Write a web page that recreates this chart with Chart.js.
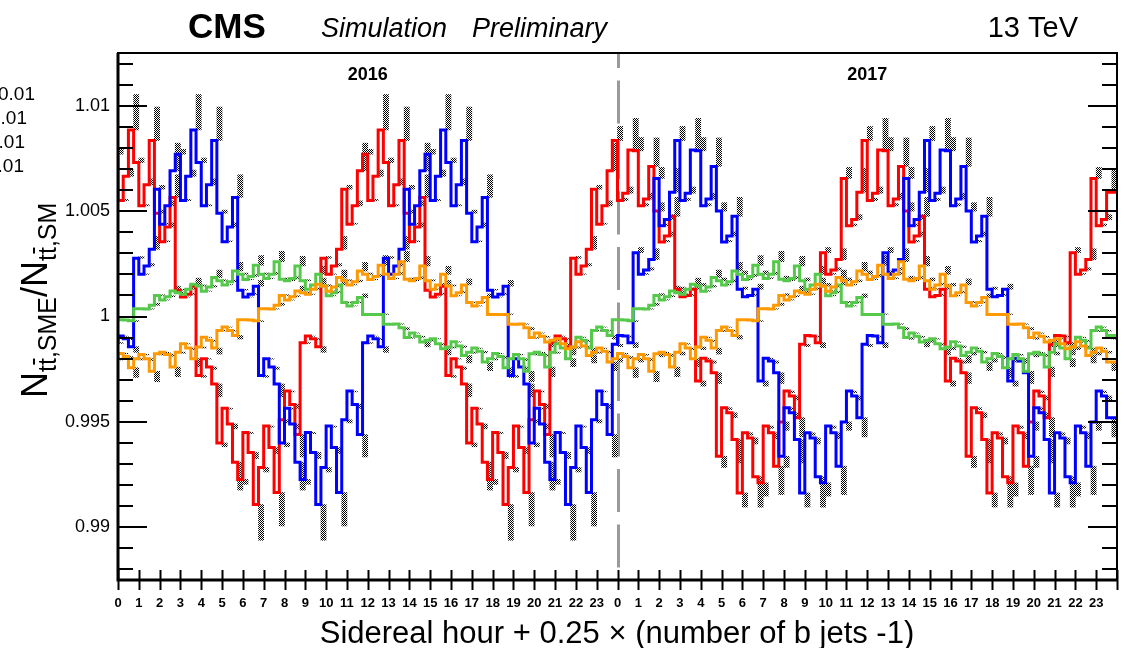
<!DOCTYPE html>
<html>
<head>
<meta charset="utf-8">
<script src="https://cdn.jsdelivr.net/npm/chart.js@4.4.1/dist/chart.umd.min.js"></script>
<style>
  html, body { margin: 0; padding: 0; background: #fff; }
</style>
</head>
<body>
<canvas id="sme" width="1124" height="648"></canvas>
<script>
// ratio N(SME)/N(SM) per bin: 4 b-jet bins per sidereal hour, 24 hours per year
const red16 = [
  1.00770, 1.00550, 1.00665, 1.00885,  1.00730, 1.00525, 1.00625, 1.00835,
  1.00490, 1.00355, 1.00425, 1.00565,  1.00125, 1.00092, 1.00105, 1.00144,
  0.99720, 0.99800, 0.99760, 0.99680,  0.99400, 0.99565, 0.99490, 0.99308,
  0.99227, 0.99450, 0.99355, 0.99108,  0.99284, 0.99480, 0.99378, 0.99165,
  0.99510, 0.99646, 0.99583, 0.99440,  0.99876, 0.99907, 0.99895, 0.99857,
  1.00276, 1.00200, 1.00240, 1.00319,  1.00604, 1.00438, 1.00525, 1.00691,
  1.00770, 1.00550, 1.00665, 1.00885,  1.00730, 1.00525, 1.00625, 1.00835,
  1.00490, 1.00355, 1.00425, 1.00565,  1.00125, 1.00092, 1.00105, 1.00144,
  0.99720, 0.99800, 0.99760, 0.99680,  0.99400, 0.99565, 0.99490, 0.99308,
  0.99227, 0.99450, 0.99355, 0.99108,  0.99284, 0.99480, 0.99378, 0.99165,
  0.99510, 0.99646, 0.99583, 0.99440,  0.99876, 0.99907, 0.99895, 0.99857,
  1.00276, 1.00200, 1.00240, 1.00319,  1.00604, 1.00438, 1.00525, 1.00691
];
const red17 = [
  1.00835, 1.00550, 1.00585, 1.00790,  1.00786, 1.00525, 1.00557, 1.00712,
  1.00500, 1.00354, 1.00382, 1.00475,  1.00129, 1.00094, 1.00100, 1.00129,
  0.99694, 0.99802, 0.99789, 0.99733,  0.99337, 0.99567, 0.99543, 0.99416,
  0.99163, 0.99448, 0.99424, 0.99240,  0.99211, 0.99480, 0.99448, 0.99290,
  0.99500, 0.99646, 0.99623, 0.99520,  0.99868, 0.99910, 0.99907, 0.99876,
  1.00303, 1.00200, 1.00220, 1.00270,  1.00655, 1.00430, 1.00460, 1.00590,
  1.00835, 1.00550, 1.00585, 1.00790,  1.00786, 1.00525, 1.00557, 1.00712,
  1.00500, 1.00354, 1.00382, 1.00475,  1.00129, 1.00094, 1.00100, 1.00129,
  0.99694, 0.99802, 0.99789, 0.99733,  0.99337, 0.99567, 0.99543, 0.99416,
  0.99163, 0.99448, 0.99424, 0.99240,  0.99211, 0.99480, 0.99448, 0.99290,
  0.99500, 0.99646, 0.99623, 0.99520,  0.99868, 0.99910, 0.99907, 0.99876,
  1.00303, 1.00200, 1.00220, 1.00270,  1.00655, 1.00430, 1.00460, 1.00590
];
const blue16 = [
  0.99876, 0.99907, 0.99895, 0.99857,  1.00276, 1.00200, 1.00240, 1.00319,
  1.00604, 1.00438, 1.00525, 1.00691,  1.00770, 1.00550, 1.00665, 1.00885,
  1.00730, 1.00525, 1.00625, 1.00835,  1.00490, 1.00355, 1.00425, 1.00565,
  1.00125, 1.00092, 1.00105, 1.00144,  0.99720, 0.99800, 0.99760, 0.99680,
  0.99400, 0.99565, 0.99490, 0.99308,  0.99227, 0.99450, 0.99355, 0.99108,
  0.99284, 0.99480, 0.99378, 0.99165,  0.99510, 0.99646, 0.99583, 0.99440,
  0.99876, 0.99907, 0.99895, 0.99857,  1.00276, 1.00200, 1.00240, 1.00319,
  1.00604, 1.00438, 1.00525, 1.00691,  1.00770, 1.00550, 1.00665, 1.00885,
  1.00730, 1.00525, 1.00625, 1.00835,  1.00490, 1.00355, 1.00425, 1.00565,
  1.00125, 1.00092, 1.00105, 1.00144,  0.99720, 0.99800, 0.99760, 0.99680,
  0.99400, 0.99565, 0.99490, 0.99308,  0.99227, 0.99450, 0.99355, 0.99108,
  0.99284, 0.99480, 0.99378, 0.99165,  0.99510, 0.99646, 0.99583, 0.99440
];
const blue17 = [
  0.99868, 0.99910, 0.99907, 0.99876,  1.00303, 1.00200, 1.00220, 1.00270,
  1.00655, 1.00430, 1.00460, 1.00590,  1.00835, 1.00550, 1.00585, 1.00790,
  1.00786, 1.00525, 1.00557, 1.00712,  1.00500, 1.00354, 1.00382, 1.00475,
  1.00129, 1.00094, 1.00100, 1.00129,  0.99694, 0.99802, 0.99789, 0.99733,
  0.99337, 0.99567, 0.99543, 0.99416,  0.99163, 0.99448, 0.99424, 0.99240,
  0.99211, 0.99480, 0.99448, 0.99290,  0.99500, 0.99646, 0.99623, 0.99520,
  0.99868, 0.99910, 0.99907, 0.99876,  1.00303, 1.00200, 1.00220, 1.00270,
  1.00655, 1.00430, 1.00460, 1.00590,  1.00835, 1.00550, 1.00585, 1.00790,
  1.00786, 1.00525, 1.00557, 1.00712,  1.00500, 1.00354, 1.00382, 1.00475,
  1.00129, 1.00094, 1.00100, 1.00129,  0.99694, 0.99802, 0.99789, 0.99733,
  0.99337, 0.99567, 0.99543, 0.99416,  0.99163, 0.99448, 0.99424, 0.99240,
  0.99211, 0.99480, 0.99448, 0.99290,  0.99500, 0.99646, 0.99623, 0.99520
];
const green16 = [
  0.99985, 0.99985, 0.99983, 0.99980,  1.00037, 1.00037, 1.00035, 1.00053,
  1.00100, 1.00078, 1.00094, 1.00121,  1.00113, 1.00105, 1.00129, 1.00153,
  1.00145, 1.00120, 1.00140, 1.00185,  1.00169, 1.00150, 1.00165, 1.00216,
  1.00200, 1.00175, 1.00190, 1.00243,  1.00200, 1.00180, 1.00200, 1.00260,
  1.00177, 1.00170, 1.00180, 1.00240,  1.00169, 1.00129, 1.00150, 1.00200,
  1.00145, 1.00098, 1.00113, 1.00150,  1.00066, 1.00050, 1.00066, 1.00090,
  1.00010, 1.00010, 1.00010, 1.00010,  0.99963, 0.99963, 0.99965, 0.99947,
  0.99900, 0.99922, 0.99906, 0.99879,  0.99887, 0.99895, 0.99871, 0.99847,
  0.99855, 0.99880, 0.99860, 0.99815,  0.99831, 0.99850, 0.99835, 0.99784,
  0.99800, 0.99825, 0.99810, 0.99757,  0.99800, 0.99820, 0.99800, 0.99740,
  0.99823, 0.99830, 0.99820, 0.99760,  0.99831, 0.99871, 0.99850, 0.99800,
  0.99855, 0.99902, 0.99887, 0.99850,  0.99934, 0.99950, 0.99934, 0.99910
];
const green17 = green16.slice();
const orange16 = [
  0.99800, 0.99825, 0.99810, 0.99757,  0.99800, 0.99820, 0.99800, 0.99740,
  0.99823, 0.99830, 0.99820, 0.99760,  0.99831, 0.99871, 0.99850, 0.99800,
  0.99855, 0.99902, 0.99887, 0.99850,  0.99934, 0.99950, 0.99934, 0.99910,
  0.99985, 0.99985, 0.99983, 0.99980,  1.00037, 1.00037, 1.00035, 1.00053,
  1.00100, 1.00078, 1.00094, 1.00121,  1.00113, 1.00105, 1.00129, 1.00153,
  1.00145, 1.00120, 1.00140, 1.00185,  1.00169, 1.00150, 1.00165, 1.00216,
  1.00200, 1.00175, 1.00190, 1.00243,  1.00200, 1.00180, 1.00200, 1.00260,
  1.00177, 1.00170, 1.00180, 1.00240,  1.00169, 1.00129, 1.00150, 1.00200,
  1.00145, 1.00098, 1.00113, 1.00150,  1.00066, 1.00050, 1.00066, 1.00090,
  1.00010, 1.00010, 1.00010, 1.00010,  0.99963, 0.99963, 0.99965, 0.99947,
  0.99900, 0.99922, 0.99906, 0.99879,  0.99887, 0.99895, 0.99871, 0.99847,
  0.99855, 0.99880, 0.99860, 0.99815,  0.99831, 0.99850, 0.99835, 0.99784
];
const orange17 = orange16.slice();

// relative size of the hatched band per b-jet bin (1, 2, 3, 4 b jets)
const band16 = [0.03, 0.01, 0.045, 0.19];
const band17 = [0.08, 0.02, 0.05, 0.19];

const hourLabels = [
  '0','1','2','3','4','5','6','7','8','9','10','11','12','13','14','15','16','17','18','19','20','21','22','23',
  '0','1','2','3','4','5','6','7','8','9','10','11','12','13','14','15','16','17','18','19','20','21','22','23'
];
const yTickValues = [0.99, 0.995, 1, 1.005, 1.01];
const yTickLabels = ['0.99', '0.995', '1', '1.005', '1.01'];
const legendTail = ['0.01', '0.01', '0.01', '0.01'];

const BIN = 0.25;
const FONT = "'Liberation Sans', Arial, Helvetica, sans-serif";

const series = [
  { color: '#ff0000', values: red16.concat(red17) },
  { color: '#0000ff', values: blue16.concat(blue17) },
  { color: '#55c94a', values: green16.concat(green17) },
  { color: '#ff9900', values: orange16.concat(orange17) }
];

function stepPoints(values) {
  const pts = values.map((v, i) => ({ x: i * BIN, y: v }));
  pts.push({ x: values.length * BIN, y: values[values.length - 1] });
  return pts;
}

function bandBars(values) {
  return values.map((v, i) => {
    const s = (i < 96 ? band16 : band17)[i % 4];
    return { x: (i + 0.5) * BIN, y: [v, v + (v - 1) * s] };
  });
}

// checkerboard fill for the uncertainty band
function checker() {
  const c = document.createElement('canvas');
  c.width = 2; c.height = 2;
  const g = c.getContext('2d');
  g.fillStyle = '#fff'; g.fillRect(0, 0, 2, 2);
  g.fillStyle = '#000'; g.fillRect(0, 0, 1, 1); g.fillRect(1, 1, 1, 1);
  return g.createPattern(c, 'repeat');
}
const hatch = checker();

const datasets = [];
series.forEach(s => {
  datasets.push({
    type: 'bar', data: bandBars(s.values), backgroundColor: hatch,
    borderWidth: 0, barPercentage: 1, categoryPercentage: 1, grouped: false, order: 10
  });
});
series.forEach((s, i) => {
  datasets.push({
    type: 'line', data: stepPoints(s.values), borderColor: s.color, borderWidth: 3,
    stepped: 'after', pointRadius: 0, fill: false, borderJoinStyle: 'miter', order: 4 - i
  });
});

function drawText(ctx, str, x, y, font, align) {
  ctx.font = font;
  ctx.textAlign = align || 'left';
  ctx.fillText(str, x, y);
}

const decorations = {
  id: 'decorations',
  beforeDatasetsDraw(chart) {
    const { ctx, chartArea: a, scales: { x } } = chart;
    const px = Math.round(x.getPixelForValue(24)) + 0.5;
    ctx.save();
    ctx.strokeStyle = '#9a9a9a';
    ctx.lineWidth = 3;
    ctx.setLineDash([43, 12.5]);
    ctx.lineDashOffset = 43;
    ctx.beginPath();
    ctx.moveTo(px, a.bottom);
    ctx.lineTo(px, a.top);
    ctx.stroke();
    ctx.restore();
  },
  afterDatasetsDraw(chart) {
    const { ctx, chartArea: a, scales: { x, y } } = chart;
    ctx.save();
    ctx.strokeStyle = '#000';
    // ticks on both vertical sides
    ctx.lineWidth = 2;
    ctx.beginPath();
    for (let m = 988; m <= 1012; m++) {
      const py = Math.round(y.getPixelForValue(m / 1000));
      const len = m % 5 === 0 ? 29 : 15;
      ctx.moveTo(a.left, py); ctx.lineTo(a.left + len, py);
      ctx.moveTo(a.right, py); ctx.lineTo(a.right - len, py);
    }
    for (let h = 0; h <= 48; h++) {
      const px = Math.round(x.getPixelForValue(h)) + 0.5;
      ctx.moveTo(px, a.bottom - 10); ctx.lineTo(px, a.bottom + 10);
    }
    ctx.stroke();
    // frame
    ctx.lineWidth = 2;
    ctx.strokeRect(a.left, a.top, a.right - a.left, a.bottom - a.top);
    ctx.lineWidth = 3;
    ctx.beginPath();
    ctx.moveTo(a.left, a.top); ctx.lineTo(a.left, a.bottom); ctx.lineTo(a.right, a.bottom);
    ctx.stroke();

    ctx.fillStyle = '#000';
    ctx.textBaseline = 'alphabetic';
    drawText(ctx, '2016', x.getPixelForValue(12), 80, 'bold 18px ' + FONT, 'center');
    drawText(ctx, '2017', x.getPixelForValue(36), 80, 'bold 18px ' + FONT, 'center');
    ctx.restore();
  },
  afterDraw(chart) {
    const { ctx } = chart;
    ctx.save();
    ctx.fillStyle = '#000';
    ctx.textBaseline = 'alphabetic';
    drawText(ctx, 'CMS', 188, 38, 'bold 35px ' + FONT);
    drawText(ctx, 'Simulation', 321, 37, 'italic 27px ' + FONT);
    drawText(ctx, 'Preliminary', 472, 37, 'italic 27px ' + FONT);
    drawText(ctx, '13 TeV', 1078, 37, '29px ' + FONT, 'right');
    drawText(ctx, 'Sidereal hour + 0.25 \u00d7 (number of b jets -1)', 617, 643, '31px ' + FONT, 'center');

    // legend entries running off the left edge
    const tails = [35, 27, 25, 24];
    legendTail.forEach((t, i) => drawText(ctx, t, tails[i], 100 + i * 24, '19px ' + FONT, 'right'));

    // y title: N_{tt,SME}/N_{tt,SM}, rotated
    ctx.translate(47, 398);
    ctx.rotate(-Math.PI / 2);
    let cx = 0;
    const big = '36px ' + FONT, small = '25px ' + FONT;
    const piece = (str, font, dy) => {
      ctx.font = font;
      ctx.textAlign = 'left';
      ctx.fillText(str, cx, dy);
      cx += ctx.measureText(str).width;
    };
    const sub = (label) => {
      ctx.font = small;
      const tw = ctx.measureText('t').width;
      piece('t', small, 9);
      const bx = cx;
      piece('t', small, 9);
      ctx.fillRect(bx + 0.5, 9 - 23, tw - 1, 2);
      piece(',' + label, small, 9);
    };
    piece('N', big, 0);
    sub('SME');
    piece('/N', big, 0);
    sub('SM');
    ctx.restore();
  }
};

new Chart(document.getElementById('sme'), {
  type: 'line',
  data: { datasets },
  options: {
    responsive: false,
    animation: false,
    events: [],
    layout: { padding: { top: 53, right: 7, left: 0, bottom: 0 } },
    plugins: { legend: { display: false }, tooltip: { enabled: false } },
    scales: {
      x: {
        type: 'linear', min: 0, max: 48, offset: false,
        grid: { display: false, drawTicks: false }, border: { display: false },
        afterBuildTicks: s => { s.ticks = hourLabels.map((_, i) => ({ value: i })); },
        afterFit: s => { s.height = 68; },
        ticks: {
          autoSkip: false, maxRotation: 0, padding: 16, color: '#000',
          font: { family: FONT, size: 13, weight: 'bold' },
          callback: (v) => hourLabels[v]
        }
      },
      y: {
        min: 0.9875, max: 1.0125,
        grid: { display: false, drawTicks: false }, border: { display: false },
        afterBuildTicks: s => { s.ticks = yTickValues.map(v => ({ value: v })); },
        afterFit: s => { s.width = 118; },
        ticks: {
          padding: 8, color: '#000',
          font: { family: FONT, size: 18 },
          callback: (v) => yTickLabels[yTickValues.indexOf(v)]
        }
      }
    }
  },
  plugins: [decorations]
});
</script>
</body>
</html>
